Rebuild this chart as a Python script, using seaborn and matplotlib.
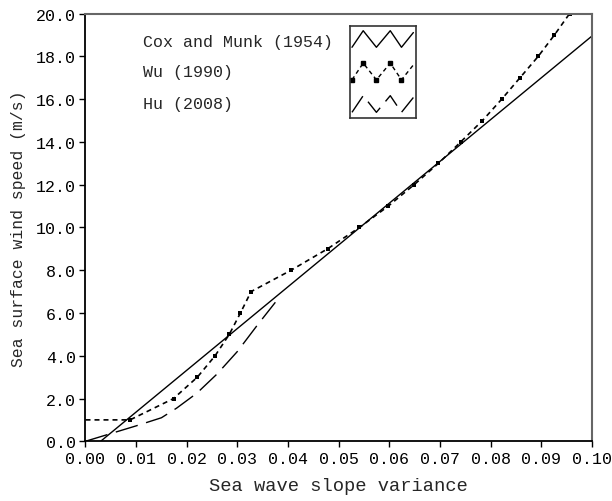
import matplotlib
matplotlib.use("Agg")
import matplotlib.pyplot as plt
import seaborn as sns
import pandas as pd

# ---- data ----
cox_x = [0.003, 0.100]
cox_y = [0.0, 18.95]

wu_x = [0.0, 0.0088, 0.0174, 0.0221, 0.0256, 0.0284, 0.0306, 0.0327, 0.0406, 0.0478,
        0.0541, 0.0598, 0.0649, 0.0697, 0.0741, 0.0784, 0.0822, 0.0858, 0.0894, 0.0926, 0.0956]
wu_y = [1.0, 1.0, 2.0, 3.0, 4.0, 5.0, 6.0, 7.0, 8.0, 9.0,
        10.0, 11.0, 12.0, 13.0, 14.0, 15.0, 16.0, 17.0, 18.0, 19.0, 20.0]

hu_x = [0.0, 0.005, 0.010, 0.015, 0.018, 0.022, 0.026, 0.030, 0.034, 0.0375]
hu_y = [0.0, 0.36, 0.72, 1.10, 1.55, 2.25, 3.15, 4.20, 5.45, 6.50]

labels = ["Cox and Munk (1954)", "Wu (1990)", "Hu (2008)"]
x_ticks = [0.00, 0.01, 0.02, 0.03, 0.04, 0.05, 0.06, 0.07, 0.08, 0.09, 0.10]
y_ticks = [0, 2, 4, 6, 8, 10, 12, 14, 16, 18, 20]

sns.set_style("ticks")
plt.rcParams['font.family'] = ['Liberation Mono', 'DejaVu Sans Mono']

fig = plt.figure(figsize=(6.12, 5.02), dpi=100)
ax = fig.add_axes([0.1397, 0.119, 0.967 - 0.1397, 0.9707 - 0.119])

cox = pd.DataFrame({"x": cox_x, "y": cox_y})
wu = pd.DataFrame({"x": wu_x, "y": wu_y})
hu = pd.DataFrame({"x": hu_x, "y": hu_y})

sns.lineplot(data=cox, x="x", y="y", ax=ax, color="black", lw=1.0, sort=False)
sns.lineplot(data=wu, x="x", y="y", ax=ax, color="black", lw=1.2, sort=False,
             dashes=False)
ax.lines[-1].set_dashes((3.0, 2.4))
sns.scatterplot(data=wu.iloc[1:], x="x", y="y", ax=ax, color="black", marker="s",
                s=9, linewidth=0)
sns.lineplot(data=hu, x="x", y="y", ax=ax, color="black", lw=1.0, sort=False)
ax.lines[-1].set_dashes((16.5, 6.3))

ax.set_xlim(0, 0.10)
ax.set_ylim(0, 20)
ax.set_xticks(x_ticks)
ax.set_xticklabels([f"{v:.2f}" for v in x_ticks])
ax.set_yticks(y_ticks)
ax.set_yticklabels([f"{v:.1f}" for v in y_ticks])
ax.tick_params(direction="out", length=4, width=1, labelsize=12, pad=3, colors="black")
ax.set_xlabel("Sea wave slope variance", fontsize=13.5, labelpad=8)
ax.set_ylabel("Sea surface wind speed (m/s)", fontsize=11.8, labelpad=7)
for s in ["left", "bottom"]:
    ax.spines[s].set_color("black")
    ax.spines[s].set_linewidth(1.3)
for s in ["top", "right"]:
    ax.spines[s].set_visible(True)
    ax.spines[s].set_color("#666666")
    ax.spines[s].set_linewidth(1.5)

# ---- custom legend ----
ys = [42, 73, 105]
for lab, yp in zip(labels, ys):
    fig.text(143 / 612, 1 - yp / 502, lab, fontsize=12, va="center", ha="left")

lax = fig.add_axes([350 / 612, 1 - 119.3 / 502, 66 / 612, 92 / 502])
lax.set_xlim(0, 1)
lax.set_ylim(0, 1)
lax.set_xticks([])
lax.set_yticks([])
for s in lax.spines.values():
    s.set_color("#333333")
    s.set_linewidth(1.2)
zx = [0.03, 0.20, 0.40, 0.61, 0.78, 0.96]
rows = [(0.952, 0.772), (0.60, 0.418), (0.246, 0.065)]
for i, (hi, lo) in enumerate(rows):
    zy = [lo if k % 2 == 0 else hi for k in range(len(zx))]
    zy[-1] = hi - 0.02
    (ln,) = lax.plot(zx, zy, color="black", lw=1.0)
    if i == 1:
        ln.set_dashes((3.0, 2.4))
        lax.plot(zx[:-1], zy[:-1], ls="none", marker="s", ms=2.5, color="black")
    if i == 2:
        ln.set_dashes((14, 6))

fig.savefig("out.png", dpi=100)
